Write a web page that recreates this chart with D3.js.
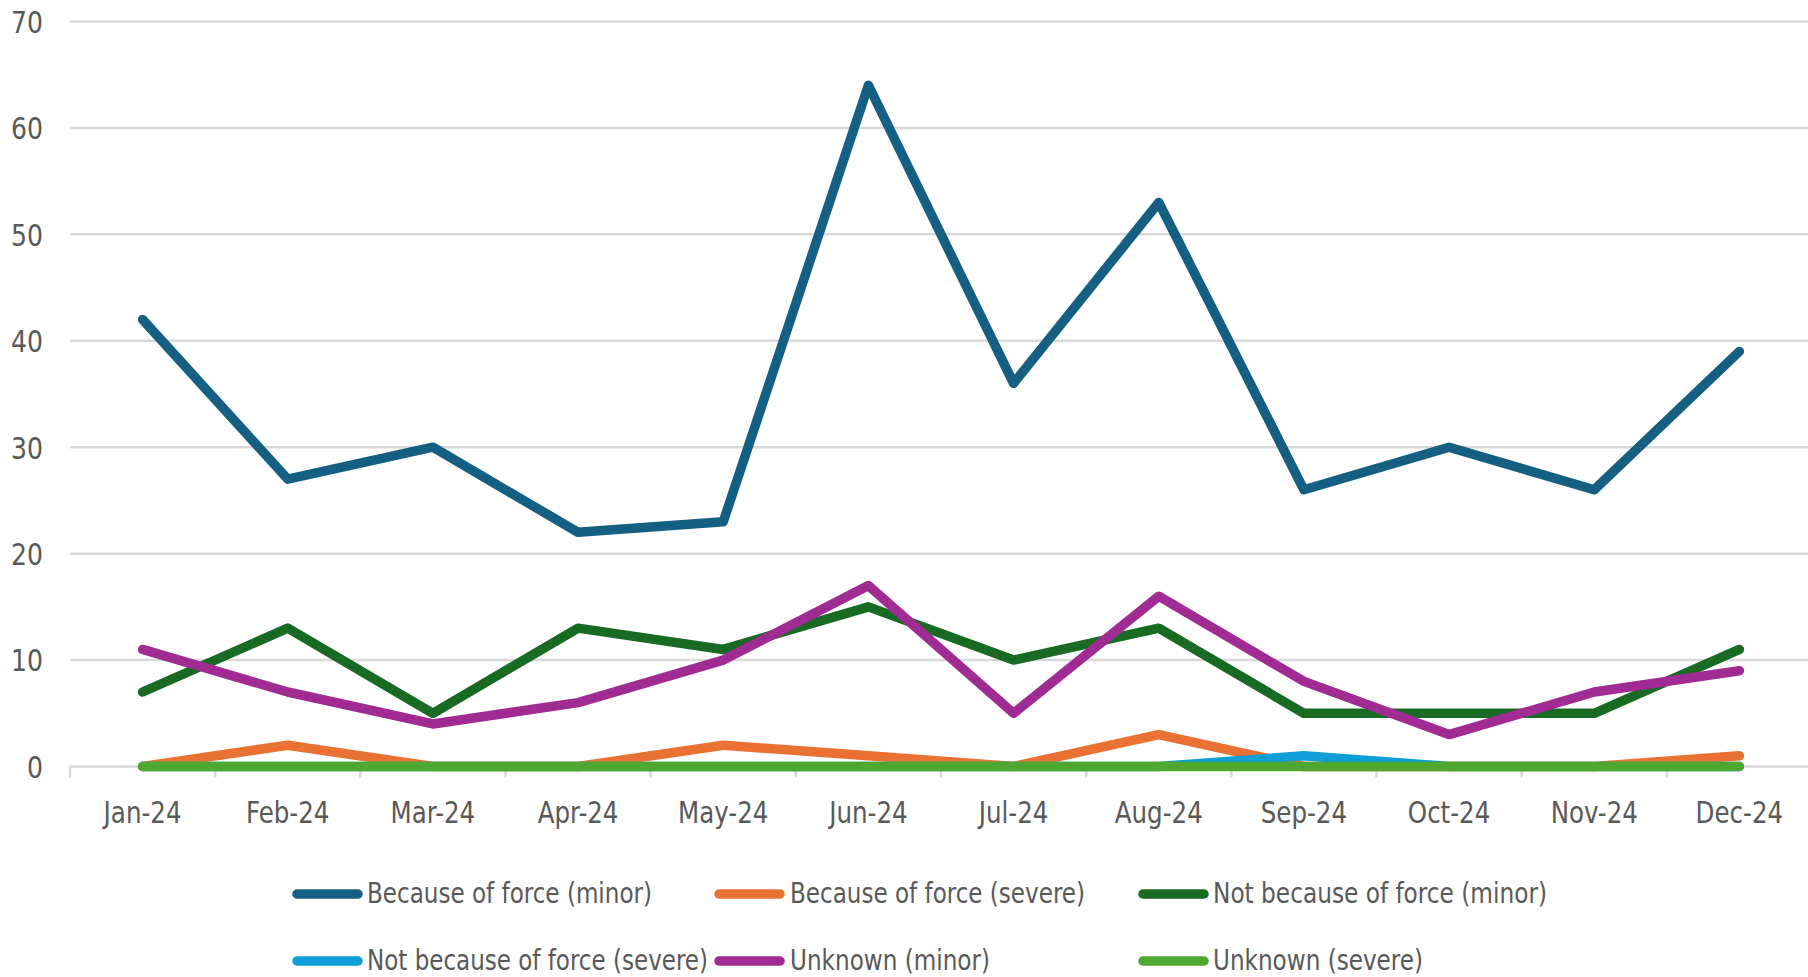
<!DOCTYPE html>
<html>
<head>
<meta charset="utf-8">
<script src="https://cdn.jsdelivr.net/npm/d3@7"></script>
<style>
  html, body { margin: 0; padding: 0; background: #ffffff; }
  svg { display: block; }
  text { font-family: "Liberation Sans Narrow", "DejaVu Sans Condensed", "Liberation Sans", sans-serif; fill: #595959; }
</style>
</head>
<body>
<svg id="chart" width="1808" height="977"></svg>
<script>
// Monthly counts for 2024
const months = ["Jan-24", "Feb-24", "Mar-24", "Apr-24", "May-24", "Jun-24",
                "Jul-24", "Aug-24", "Sep-24", "Oct-24", "Nov-24", "Dec-24"];

const seriesNames = [
  "Because of force (minor)",
  "Because of force (severe)",
  "Not because of force (minor)",
  "Not because of force (severe)",
  "Unknown (minor)",
  "Unknown (severe)"
];

const becauseMinor    = [42, 27, 30, 22, 23, 64, 36, 53, 26, 30, 26, 39];
const becauseSevere   = [0, 2, 0, 0, 2, 1, 0, 3, 0, 0, 0, 1];
const notBecauseMinor = [7, 13, 5, 13, 11, 15, 10, 13, 5, 5, 5, 11];
const notBecauseSevere = [0, 0, 0, 0, 0, 0, 0, 0, 1, 0, 0, 0];
const unknownMinor    = [11, 7, 4, 6, 10, 17, 5, 16, 8, 3, 7, 9];
const unknownSevere   = [0, 0, 0, 0, 0, 0, 0, 0, 0, 0, 0, 0];

const yTicks = [0, 10, 20, 30, 40, 50, 60, 70];

const colors = ["#156082", "#E97132", "#196B24", "#0F9ED5", "#A02B93", "#4EA72E"];

const seriesValues = [becauseMinor, becauseSevere, notBecauseMinor,
                      notBecauseSevere, unknownMinor, unknownSevere];

const series = seriesNames.map((name, i) => ({
  name, color: colors[i],
  values: seriesValues[i].map((v, j) => ({ month: months[j], value: v }))
}));

const svg = d3.select("#chart");

const x = d3.scaleBand().domain(months).range([70, 1812]).paddingInner(0).paddingOuter(0);
const y = d3.scaleLinear().domain([0, 70]).range([766.5, 21.5]);

// Narrow the axis lettering slightly so it sits like a condensed face
function condense(selection, factor) {
  selection.each(function () {
    const w = this.getComputedTextLength();
    d3.select(this)
      .attr("textLength", w * factor)
      .attr("lengthAdjust", "spacingAndGlyphs");
  });
}

// Horizontal gridlines
svg.append("g")
  .selectAll("line")
  .data(yTicks)
  .join("line")
  .attr("x1", 70).attr("x2", 1808)
  .attr("y1", d => y(d)).attr("y2", d => y(d))
  .attr("stroke", "#d9d9d9")
  .attr("stroke-width", 2.5);

// Y axis labels
const yAxis = d3.axisLeft(y).tickValues(yTicks).tickSize(0).tickPadding(0);
const gy = svg.append("g").attr("transform", "translate(43,0)").call(yAxis);
gy.select(".domain").remove();
gy.attr("font-family", null).attr("font-size", null);
gy.selectAll("text")
  .attr("font-size", 31)
  .attr("dy", "0.35em")
  .call(condense, 0.9);

// X axis: tick marks on category boundaries, labels centred in each band
const bounds = months.map(m => x(m));
svg.append("g")
  .selectAll("line")
  .data(bounds)
  .join("line")
  .attr("x1", d => d).attr("x2", d => d)
  .attr("y1", y(0)).attr("y2", y(0) + 11)
  .attr("stroke", "#d9d9d9")
  .attr("stroke-width", 2.5);

svg.append("g")
  .selectAll("text")
  .data(months)
  .join("text")
  .attr("x", d => x(d) + x.bandwidth() / 2)
  .attr("y", 823)
  .attr("text-anchor", "middle")
  .attr("font-size", 31)
  .text(d => d)
  .call(condense, 0.88);

// Series lines
const line = d3.line()
  .x(d => x(d.month) + x.bandwidth() / 2)
  .y(d => y(d.value));

svg.append("g")
  .selectAll("path")
  .data(series)
  .join("path")
  .attr("d", d => line(d.values))
  .attr("fill", "none")
  .attr("stroke", d => d.color)
  .attr("stroke-width", 9.5)
  .attr("stroke-linejoin", "round")
  .attr("stroke-linecap", "round");

// Legend: three columns, two rows
const legendCols = [
  { swatch: 293, text: 367 },
  { swatch: 715, text: 790 },
  { swatch: 1139, text: 1213 }
];
const legendRows = [894, 961];
const legendWidths = [285, 295, 334, 341, 200, 210];

const legend = svg.append("g")
  .selectAll("g")
  .data(series)
  .join("g")
  .attr("transform", (d, i) => `translate(0,${legendRows[Math.floor(i / 3)]})`);

legend.append("line")
  .attr("x1", (d, i) => legendCols[i % 3].swatch + 4)
  .attr("x2", (d, i) => legendCols[i % 3].swatch + 65)
  .attr("y1", 0).attr("y2", 0)
  .attr("stroke", d => d.color)
  .attr("stroke-width", 9.5)
  .attr("stroke-linecap", "round");

legend.append("text")
  .attr("x", (d, i) => legendCols[i % 3].text)
  .attr("y", 9)
  .attr("font-size", 28)
  .attr("textLength", (d, i) => legendWidths[i])
  .attr("lengthAdjust", "spacingAndGlyphs")
  .text(d => d.name);
</script>
</body>
</html>
